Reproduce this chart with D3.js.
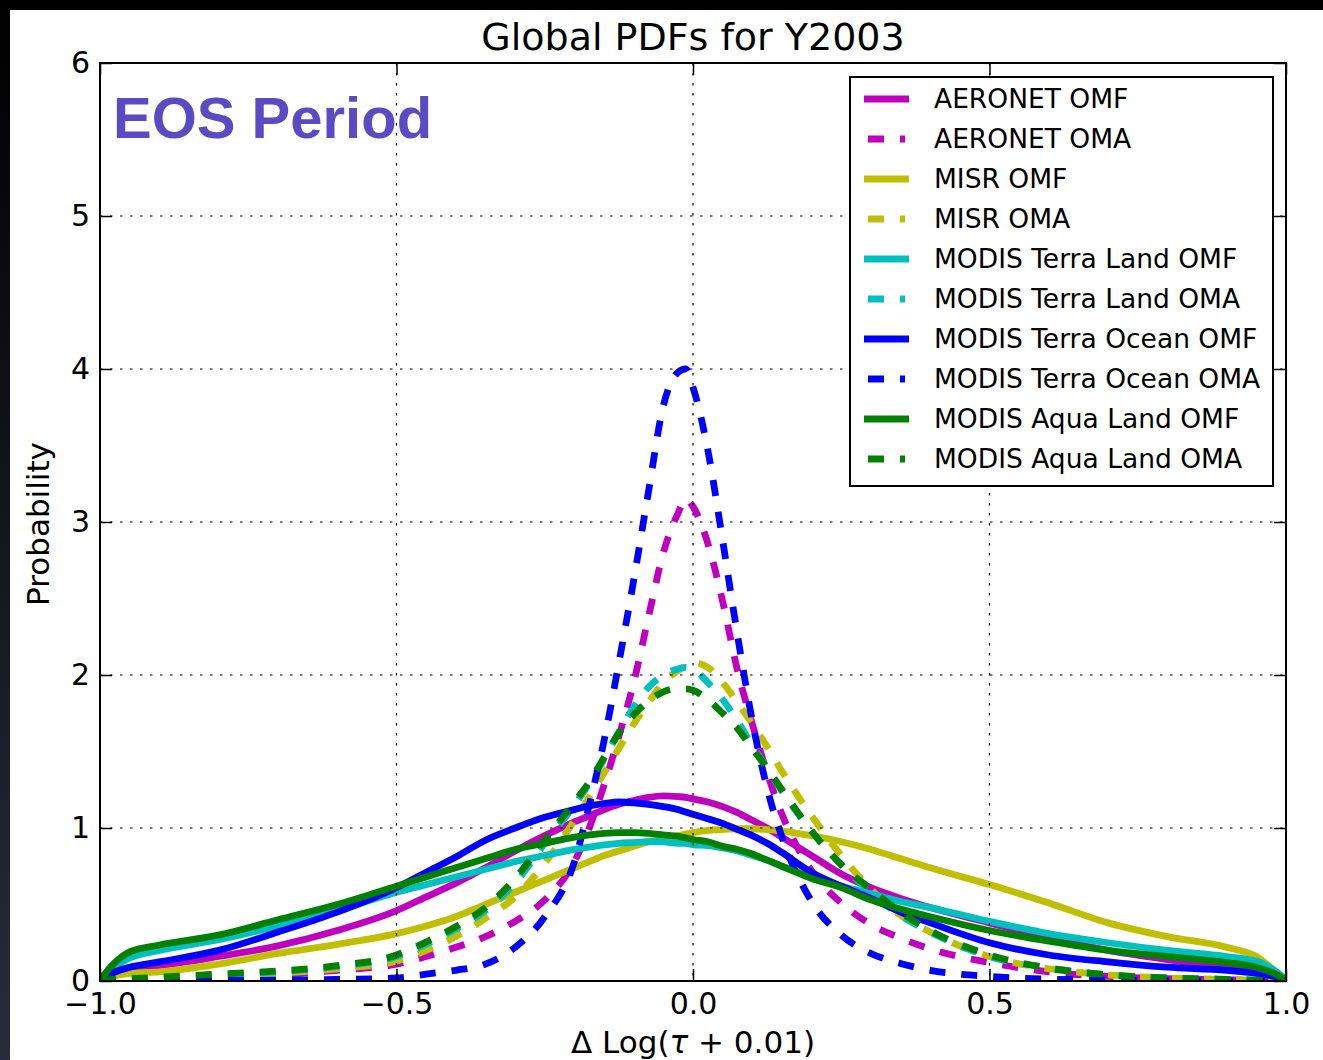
<!DOCTYPE html>
<html><head><meta charset="utf-8">
<script src="https://cdn.jsdelivr.net/npm/d3@7"></script>
<style>
html,body{margin:0;padding:0;background:#000;}
svg{display:block;}
</style></head><body>
<svg id="chart" width="1323" height="1060"></svg>
<script>
// ---------- data ----------
const xGrid = [-1.0,-0.98,-0.95,-0.9,-0.8,-0.7,-0.6,-0.5,-0.45,-0.4,-0.35,-0.3,-0.25,-0.2,-0.175,-0.15,-0.125,-0.1,-0.075,-0.05,-0.025,-0.0125,0,0.025,0.05,0.075,0.1,0.125,0.15,0.2,0.25,0.3,0.35,0.4,0.5,0.6,0.7,0.8,0.9,0.95,0.98,1.0];

const aeronetOMF = [0.005,0.04,0.08,0.1,0.16,0.23,0.33,0.46,0.55,0.64,0.74,0.85,0.95,1.04,1.08,1.12,1.155,1.18,1.2,1.21,1.205,1.2,1.19,1.17,1.14,1.1,1.05,1.0,0.94,0.82,0.70,0.61,0.54,0.48,0.38,0.28,0.2,0.14,0.09,0.07,0.03,0.005];
const aeronetOMA = [0,0.005,0.01,0.015,0.025,0.04,0.07,0.11,0.16,0.22,0.29,0.39,0.53,0.78,1.0,1.28,1.6,1.95,2.38,2.8,3.06,3.15,3.1,2.86,2.48,2.03,1.68,1.36,1.09,0.72,0.51,0.37,0.28,0.21,0.12,0.06,0.03,0.015,0.008,0.005,0.002,0];
const misrOMF = [0.01,0.03,0.05,0.06,0.11,0.18,0.24,0.31,0.36,0.42,0.5,0.58,0.66,0.74,0.78,0.82,0.85,0.88,0.91,0.93,0.95,0.96,0.97,0.985,0.99,0.995,0.995,0.99,0.98,0.95,0.91,0.86,0.8,0.74,0.63,0.51,0.38,0.29,0.22,0.16,0.07,0.01];
const misrOMA = [0,0.005,0.01,0.02,0.03,0.05,0.08,0.13,0.2,0.29,0.41,0.55,0.77,1.05,1.2,1.36,1.52,1.68,1.82,1.95,2.03,2.06,2.08,2.05,1.95,1.82,1.68,1.53,1.37,1.08,0.82,0.6,0.43,0.32,0.16,0.08,0.04,0.02,0.01,0.005,0.002,0];
const terraLandOMF = [0.01,0.08,0.15,0.2,0.27,0.36,0.46,0.58,0.63,0.68,0.73,0.78,0.82,0.86,0.875,0.89,0.9,0.905,0.91,0.91,0.9,0.9,0.89,0.885,0.87,0.85,0.82,0.79,0.75,0.68,0.62,0.57,0.52,0.48,0.39,0.31,0.25,0.2,0.16,0.13,0.07,0.01];
const terraLandOMA = [0,0.008,0.012,0.02,0.04,0.06,0.095,0.16,0.24,0.34,0.46,0.64,0.9,1.15,1.29,1.45,1.63,1.79,1.92,2.0,2.04,2.05,2.04,1.95,1.84,1.7,1.54,1.39,1.24,0.98,0.76,0.58,0.43,0.32,0.16,0.085,0.04,0.02,0.01,0.005,0.002,0];
const terraOceanOMF = [0.005,0.05,0.09,0.125,0.2,0.32,0.45,0.61,0.71,0.81,0.92,1.0,1.07,1.12,1.145,1.16,1.17,1.165,1.155,1.14,1.12,1.105,1.09,1.06,1.03,0.99,0.95,0.9,0.84,0.71,0.62,0.54,0.45,0.38,0.25,0.17,0.125,0.09,0.07,0.05,0.03,0.005];
const terraOceanOMA = [0,0,0.001,0.002,0.003,0.005,0.01,0.02,0.045,0.07,0.11,0.22,0.42,0.78,1.15,1.57,2.08,2.62,3.2,3.76,3.98,4.0,3.88,3.47,2.88,2.26,1.7,1.26,0.94,0.52,0.3,0.18,0.115,0.07,0.03,0.012,0.005,0.002,0.001,0,0,0];
const aquaLandOMF = [0.005,0.1,0.19,0.235,0.3,0.4,0.5,0.62,0.68,0.74,0.8,0.86,0.9,0.94,0.955,0.965,0.97,0.97,0.965,0.955,0.945,0.935,0.925,0.91,0.88,0.86,0.83,0.79,0.75,0.67,0.61,0.53,0.47,0.42,0.33,0.26,0.2,0.16,0.12,0.09,0.05,0.005];
const aquaLandOMA = [0,0.01,0.015,0.025,0.045,0.065,0.1,0.17,0.255,0.355,0.48,0.67,0.92,1.17,1.3,1.46,1.62,1.74,1.83,1.89,1.91,1.91,1.9,1.84,1.75,1.65,1.52,1.39,1.25,0.98,0.76,0.6,0.45,0.33,0.17,0.085,0.04,0.02,0.01,0.005,0.003,0];

const seriesNames = ["AERONET OMF","AERONET OMA","MISR OMF","MISR OMA","MODIS Terra Land OMF","MODIS Terra Land OMA","MODIS Terra Ocean OMF","MODIS Terra Ocean OMA","MODIS Aqua Land OMF","MODIS Aqua Land OMA"];
const seriesValues = [aeronetOMF,aeronetOMA,misrOMF,misrOMA,terraLandOMF,terraLandOMA,terraOceanOMF,terraOceanOMA,aquaLandOMF,aquaLandOMA];
const seriesColors = ["#bf00bf","#bf00bf","#bfbf00","#bfbf00","#00bfbf","#00bfbf","#0000ff","#0000ff","#008000","#008000"];
const seriesDashed = [false,true,false,true,false,true,false,true,false,true];

const xTicks = [-1.0,-0.5,0.0,0.5,1.0];
const xTickLabels = ["\u22121.0","\u22120.5","0.0","0.5","1.0"];
const yTicks = [0,1,2,3,4,5,6];
const yTickLabels = ["0","1","2","3","4","5","6"];

// ---------- drawing ----------
const W = 1323, H = 1060;
const svg = d3.select("#chart");
const defs = svg.append("defs");
const grad = defs.append("linearGradient").attr("id","leftStrip")
  .attr("x1",0).attr("y1",0).attr("x2",0).attr("y2",1);
grad.append("stop").attr("offset","0%").attr("stop-color","#000");
grad.append("stop").attr("offset","100%").attr("stop-color","#2a2a3c");

svg.append("rect").attr("width",W).attr("height",H).attr("fill","#000");
svg.append("rect").attr("x",0).attr("y",0).attr("width",10).attr("height",H).attr("fill","url(#leftStrip)");
svg.append("rect").attr("x",10).attr("y",10).attr("width",W-10).attr("height",H-10).attr("fill","#fff");

const X0 = 100, X1 = 1286, Y0 = 981, Y1 = 63;
const x = d3.scaleLinear().domain([-1,1]).range([X0,X1]);
const y = d3.scaleLinear().domain([0,6]).range([Y0,Y1]);

defs.append("clipPath").attr("id","plotClip").append("rect")
  .attr("x",X0).attr("y",Y1).attr("width",X1-X0).attr("height",Y0-Y1);

const line = d3.line().x(d=>x(d[0])).y(d=>y(d[1])).curve(d3.curveMonotoneX);

const gLines = svg.append("g").attr("clip-path","url(#plotClip)");
seriesValues.forEach((vals,i)=>{
  gLines.append("path")
    .datum(xGrid.map((xv,j)=>[xv,vals[j]]))
    .attr("d",line)
    .attr("fill","none")
    .attr("stroke",seriesColors[i])
    .attr("stroke-width",6.8)
    .attr("stroke-linejoin","round")
    .attr("stroke-dasharray",seriesDashed[i]?"16,16":null);
});

// grid (on top of lines, as in reference)
const gGrid = svg.append("g");
xTicks.forEach(t=>{
  gGrid.append("line").attr("x1",x(t)).attr("x2",x(t)).attr("y1",Y1).attr("y2",Y0)
    .attr("stroke","#000").attr("stroke-width",1.2).attr("stroke-dasharray","2.5,7.5");
});
yTicks.forEach(t=>{
  gGrid.append("line").attr("x1",X0).attr("x2",X1).attr("y1",y(t)).attr("y2",y(t))
    .attr("stroke","#000").attr("stroke-width",1.2).attr("stroke-dasharray","2.5,7.5");
});

// axes
const font = "'DejaVu Sans', sans-serif";
function styleAxis(g, showText){
  g.select(".domain").remove();
  g.selectAll(".tick line").attr("stroke","#000").attr("stroke-width",1.5);
  g.selectAll(".tick text").attr("font-family",font).attr("font-size",30).attr("fill","#000");
  if(!showText) g.selectAll(".tick text").remove();
}
svg.append("g").attr("transform",`translate(0,${Y0})`)
  .call(d3.axisBottom(x).tickValues(xTicks).tickFormat((d,i)=>xTickLabels[i]).tickSizeInner(-12).tickSizeOuter(0).tickPadding(12))
  .call(g=>styleAxis(g,true));
svg.append("g").attr("transform",`translate(0,${Y1})`)
  .call(d3.axisTop(x).tickValues(xTicks).tickSizeInner(-12).tickSizeOuter(0))
  .call(g=>styleAxis(g,false));
svg.append("g").attr("transform",`translate(${X0},0)`)
  .call(d3.axisLeft(y).tickValues(yTicks).tickFormat((d,i)=>yTickLabels[i]).tickSizeInner(-12).tickSizeOuter(0).tickPadding(10))
  .call(g=>styleAxis(g,true));
svg.append("g").attr("transform",`translate(${X1},0)`)
  .call(d3.axisRight(y).tickValues(yTicks).tickSizeInner(-12).tickSizeOuter(0))
  .call(g=>styleAxis(g,false));

// frame
svg.append("rect").attr("x",X0).attr("y",Y1).attr("width",X1-X0).attr("height",Y0-Y1)
  .attr("fill","none").attr("stroke","#000").attr("stroke-width",2);

// title
svg.append("text").attr("x",(X0+X1)/2).attr("y",50).attr("text-anchor","middle")
  .attr("font-family",font).attr("font-size",38).attr("fill","#000")
  .text("Global PDFs for Y2003");

// axis labels
const xl = svg.append("text").attr("x",(X0+X1)/2).attr("y",1053).attr("text-anchor","middle")
  .attr("font-family",font).attr("font-size",31).attr("fill","#000");
xl.append("tspan").text("\u0394 Log(");
xl.append("tspan").attr("font-style","italic").text("\u03C4");
xl.append("tspan").text(" + 0.01)");

svg.append("text").attr("transform","translate(49,524) rotate(-90)").attr("text-anchor","middle")
  .attr("font-family",font).attr("font-size",31).attr("fill","#000")
  .text("Probability");

// EOS Period
svg.append("text").attr("x",113).attr("y",138)
  .attr("font-family","'Liberation Sans', Arial, sans-serif").attr("font-weight","bold")
  .attr("font-size",58).attr("fill","#5a4bc5").text("EOS Period");

// legend
const lg = svg.append("g");
lg.append("rect").attr("x",850).attr("y",77).attr("width",423).attr("height",409)
  .attr("fill","#fff").attr("stroke","#000").attr("stroke-width",2);
seriesNames.forEach((name,i)=>{
  const ry = 99 + 40*i;
  if(seriesDashed[i]){
    lg.append("line").attr("x1",868).attr("x2",905).attr("y1",ry).attr("y2",ry)
      .attr("stroke",seriesColors[i]).attr("stroke-width",6.8).attr("stroke-dasharray","16,16");
  } else {
    lg.append("line").attr("x1",864).attr("x2",909).attr("y1",ry).attr("y2",ry)
      .attr("stroke",seriesColors[i]).attr("stroke-width",6.8);
  }
  lg.append("text").attr("x",934).attr("y",ry+8.5)
    .attr("font-family",font).attr("font-size",26.5).attr("fill","#000").text(name);
});
</script>
</body></html>
